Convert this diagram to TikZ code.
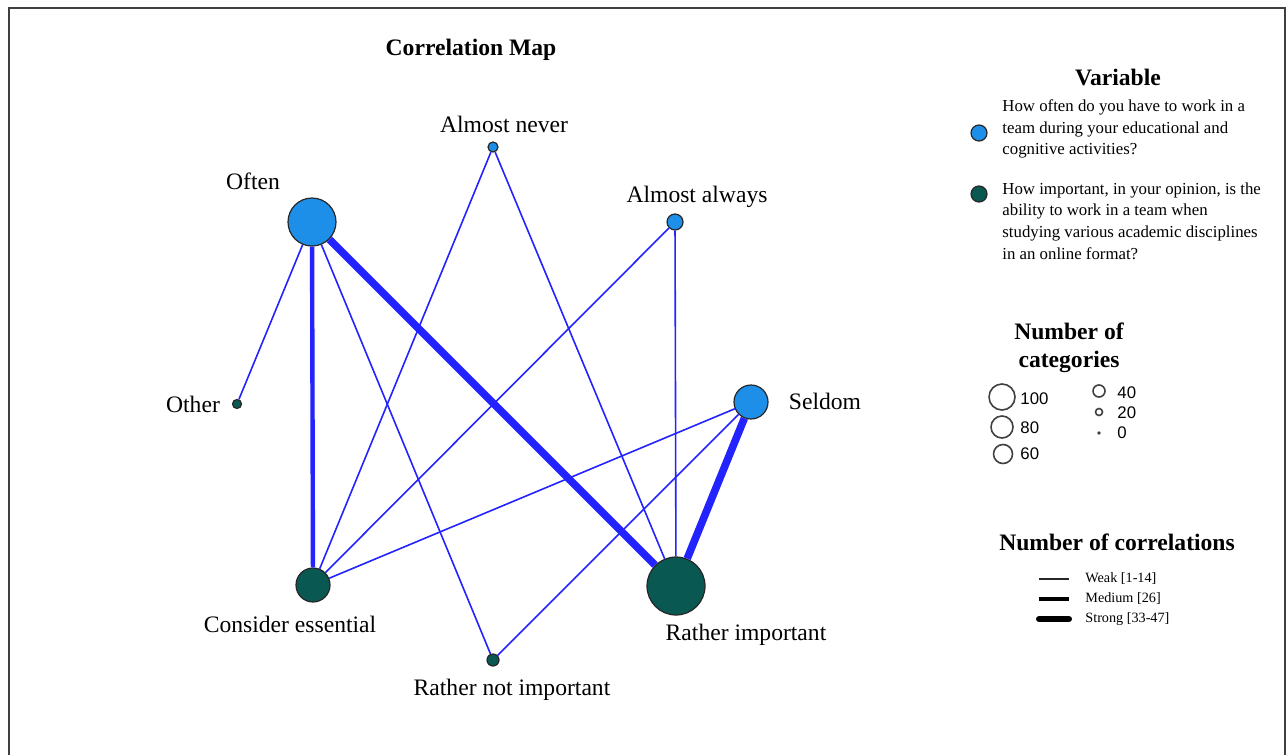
\documentclass[tikz,border=0pt]{standalone}
\usepackage{fontspec}
\setmainfont{Liberation Serif}
\newfontfamily\legsans{Liberation Sans}
\usepackage{xcolor}
\usetikzlibrary{positioning}
\definecolor{catblue}{RGB}{30,143,232}
\definecolor{catteal}{RGB}{10,88,82}
\definecolor{linkblue}{RGB}{35,35,255}
\begin{document}
\begin{tikzpicture}[x=0.5pt,y=-0.5pt,
qone/.style={circle,draw=black!85,semithick,fill=catblue,inner sep=0pt,minimum size=#1},
qtwo/.style={circle,draw=black!85,semithick,fill=catteal,inner sep=0pt,minimum size=#1},
sizeref/.style={circle,draw=black!75,thick,inner sep=0pt,minimum size=#1},
lab/.style={font=\fontsize{11.8}{14}\selectfont},
ttl/.style={font=\bfseries\fontsize{11.8}{14}\selectfont},
legtxt/.style={font=\fontsize{8.4}{10.8}\selectfont,align=left,anchor=west,inner sep=0pt},
numtxt/.style={font=\legsans\fontsize{8.4}{10}\selectfont,anchor=west,inner sep=0pt},
weak/.style={linkblue,line width=0.8pt},
medium/.style={linkblue,line width=2.2pt},
strong/.style={linkblue,line width=3.8pt}]
\useasboundingbox (0,0) rectangle (1288,755);
\draw[black!75,line width=1pt](9,755)--(9,8)--(1285,8)--(1285,755);
\node[ttl](maptitle) at (471,50){Correlation Map};
% categories of both questions
\node[qone=24pt](often) at (312,222){};
\node[qone=5pt](never) at (493,147){};
\node[qone=8pt](always) at (675,222){};
\node[qone=17pt](seldom) at (751,402){};
\node[qtwo=4.5pt](other) at (237,404){};
\node[qtwo=17pt](essential) at (313,585){};
\node[qtwo=29pt](ratherimp) at (676,586){};
\node[qtwo=6pt](rathernot) at (493,660){};
\node[lab](lnever) at (504,124){Almost never};
\node[lab](loften) at (253,181){Often};
\node[lab](lalways) at (697,197){Almost always};
\node[lab](lother) at (193,404){Other};
\node[lab](lseldom) at (825,401){Seldom};
\node[lab](lessential) at (290,624){Consider essential};
\node[lab](lratherimp) at (746,635){Rather important};
\node[lab](lrathernot) at (512,690){Rather not important};
\foreach \a/\b in {often/other,often/rathernot,never/essential,never/ratherimp,always/essential,always/ratherimp,seldom/essential,seldom/rathernot}
\draw[weak](\a)--(\b);
\draw[medium](often)--(essential);
\draw[strong](often)--(ratherimp);
\draw[strong](seldom)--(ratherimp);
% legend
\node[ttl](vartitle) at (1118,77){Variable};
\node[qone=8pt](keyone) at (979,133){};
\node[legtxt](txtone) at (1002,129){How often do you have to work in a\\team during your educational and\\cognitive activities?};
\node[qtwo=8pt](keytwo) at (979,194){};
\node[legtxt](txttwo) at (1002,221){How important, in your opinion, is the\\ability to work in a team when\\studying various academic disciplines\\in an online format?};
\node[ttl,align=center](cattitle) at (1069,348){Number of\\categories};
\node[sizeref=13pt](s100) at (1002,397){};
\node[sizeref=11pt](s80) at (1002,427){};
\node[sizeref=9.5pt](s60) at (1003,454){};
\node[sizeref=6pt](s40) at (1099,391){};
\node[sizeref=3.5pt](s20) at (1099,412){};
\node[circle,fill=black!75,inner sep=0pt,minimum size=1.8pt](s0) at (1099,433){};
\node[numtxt](n100) at (1020,399){100};
\node[numtxt](n80) at (1020,428){80};
\node[numtxt](n60) at (1020,454){60};
\node[numtxt](n40) at (1117,393){40};
\node[numtxt](n20) at (1117,413){20};
\node[numtxt](n0) at (1117,433){0};
\node[ttl](cortitle) at (1117,542){Number of correlations};
\coordinate(wa) at (1039,579);\coordinate(wb) at (1069,579);
\coordinate(ma) at (1039,599);\coordinate(mb) at (1069,599);
\coordinate(sa) at (1039,619);\coordinate(sb) at (1069,619);
\draw[black!85,line width=0.6pt](wa)--(wb);
\draw[black,line width=2pt](ma)--(mb);
\draw[black,line width=3pt,line cap=round](sa)--(sb);
\node[legtxt,font=\fontsize{7.1}{8}\selectfont](tweak) at (1085,579){Weak [1-14]};
\node[legtxt,font=\fontsize{7.1}{8}\selectfont](tmed) at (1085,599){Medium [26]};
\node[legtxt,font=\fontsize{7.1}{8}\selectfont](tstr) at (1085,619){Strong [33-47]};
\end{tikzpicture}
\end{document}
